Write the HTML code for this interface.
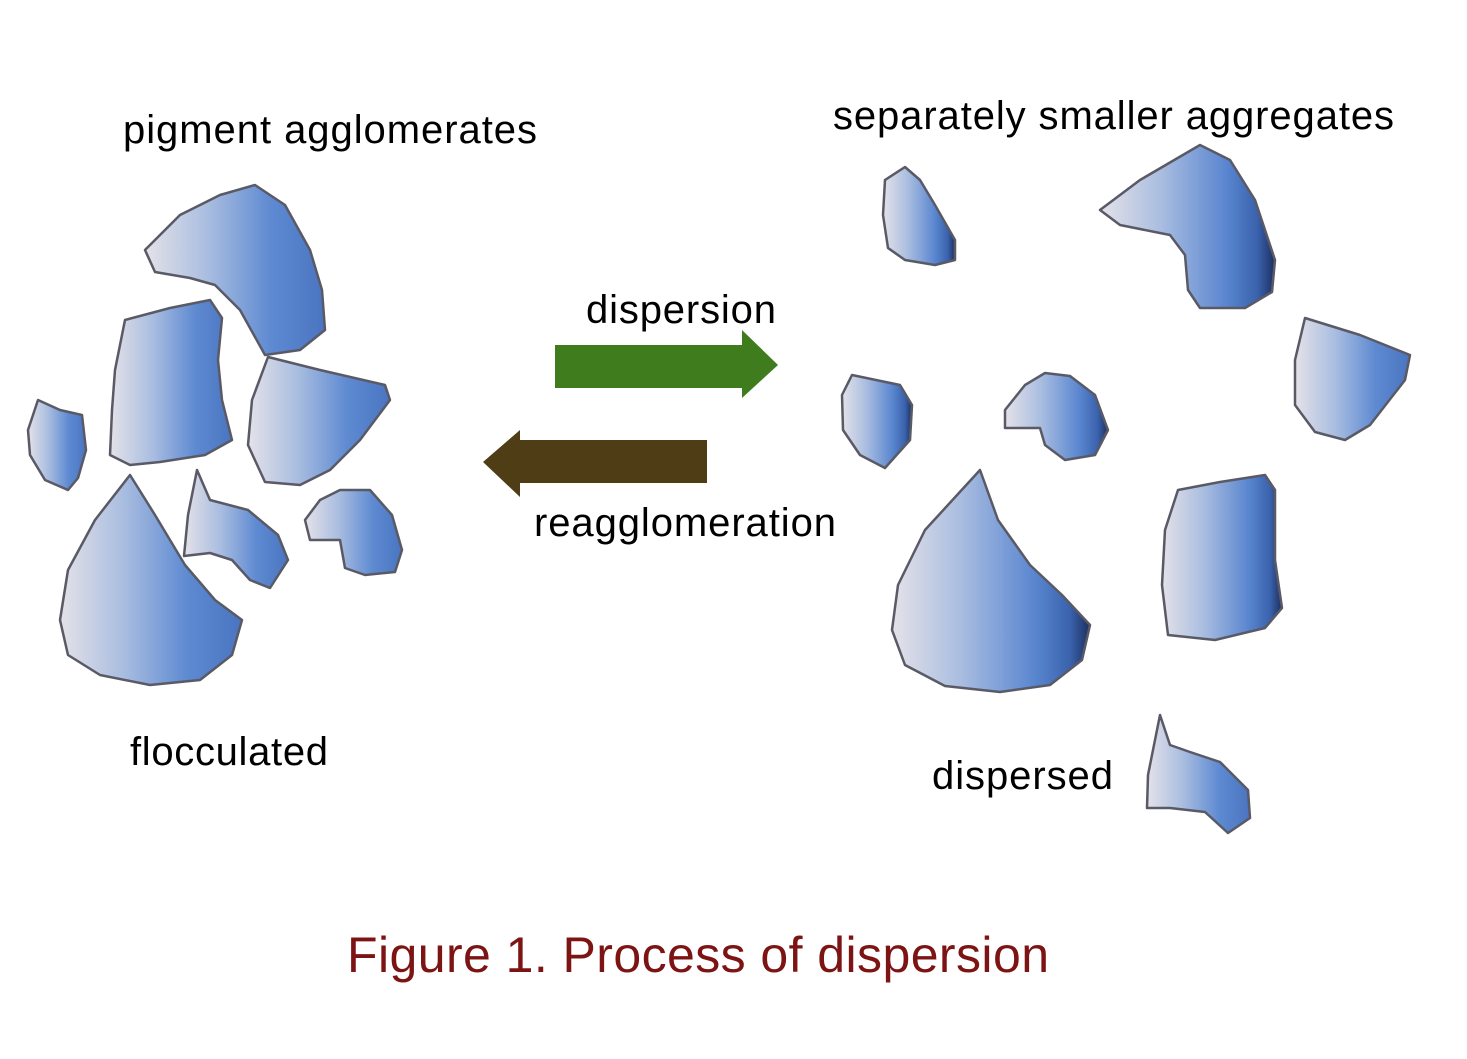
<!DOCTYPE html>
<html><head><meta charset="utf-8"><style>
html,body{margin:0;padding:0;background:#fff;}
svg{display:block;}
text{font-family:"Liberation Sans",Arial,sans-serif;}
</style></head><body>
<svg width="1467" height="1059" viewBox="0 0 1467 1059" xmlns="http://www.w3.org/2000/svg">
<defs>
<linearGradient id="g" x1="0" y1="0" x2="1" y2="0">
<stop offset="0" stop-color="#e4e2e8"/>
<stop offset="0.35" stop-color="#a9bde0"/>
<stop offset="0.7" stop-color="#5e8ad2"/>
<stop offset="1" stop-color="#4a74c0"/>
</linearGradient>
<linearGradient id="gd" x1="0" y1="0" x2="1" y2="0">
<stop offset="0" stop-color="#e4e2e8"/>
<stop offset="0.35" stop-color="#a9bde0"/>
<stop offset="0.72" stop-color="#5a86d0"/>
<stop offset="0.9" stop-color="#3a62ad"/>
<stop offset="1" stop-color="#1c2f5e"/>
</linearGradient>
</defs>
<g stroke="#5a5a66" stroke-width="2.5" stroke-linejoin="round">
<!-- left cluster -->
<polygon fill="url(#g)" points="145,250 180,215 220,195 255,185 285,205 310,250 322,290 325,330 300,350 265,355 240,310 215,285 190,278 155,272"/>
<polygon fill="url(#g)" points="125,320 170,308 210,300 222,318 218,360 222,400 232,440 205,455 160,462 130,465 110,455 112,410 115,370"/>
<polygon fill="url(#g)" points="268,357 320,370 385,385 390,400 360,440 330,470 300,485 265,482 248,445 252,400"/>
<polygon fill="url(#g)" points="38,400 60,410 82,415 86,450 78,478 68,490 45,480 30,455 28,430"/>
<polygon fill="url(#g)" points="130,475 155,515 185,565 215,600 242,620 232,655 200,680 150,685 100,675 68,655 60,620 68,570 95,520"/>
<polygon fill="url(#g)" points="197,470 210,500 248,510 278,535 288,560 270,588 250,580 232,560 210,553 184,556 188,515"/>
<polygon fill="url(#g)" points="305,520 320,500 340,490 370,490 392,515 402,550 395,572 365,575 345,568 340,540 310,540"/>
<!-- right side -->
<polygon fill="url(#gd)" points="885,180 905,167 920,180 935,205 955,240 955,260 935,265 905,260 888,248 883,215"/>
<polygon fill="url(#gd)" points="1100,210 1140,180 1200,145 1230,160 1255,200 1275,260 1272,292 1245,308 1200,308 1188,290 1185,255 1170,235 1120,225"/>
<polygon fill="url(#g)" points="1305,318 1360,335 1410,355 1405,380 1370,425 1345,440 1315,432 1295,405 1295,360"/>
<polygon fill="url(#gd)" points="852,375 900,385 912,405 910,440 885,468 860,455 843,430 842,395"/>
<polygon fill="url(#gd)" points="1005,410 1025,385 1045,373 1070,376 1095,395 1108,430 1095,455 1065,460 1045,445 1040,428 1005,428"/>
<polygon fill="url(#gd)" points="980,470 998,520 1030,565 1062,595 1090,625 1082,660 1050,685 1000,692 945,686 905,665 892,630 898,585 925,530"/>
<polygon fill="url(#gd)" points="1178,490 1220,482 1265,475 1275,490 1275,560 1282,608 1265,628 1215,640 1168,635 1162,585 1165,530"/>
<polygon fill="url(#g)" points="1160,715 1170,745 1190,752 1220,762 1248,790 1250,818 1228,833 1205,812 1170,808 1147,808 1148,775"/>
</g>
<!-- arrows -->
<path d="M555,345 L742,345 L742,330 L778,365 L742,398 L742,388 L555,388 Z" fill="#3e7c1e"/>
<path d="M707,440 L520,440 L520,430 L483,462 L520,497 L520,483 L707,483 Z" fill="#4f3d16"/>
<!-- labels -->
<g font-size="40" fill="#000">
<text x="123" y="143" textLength="414">pigment agglomerates</text>
<text x="833" y="129" textLength="561">separately smaller aggregates</text>
<text x="586" y="323" textLength="190">dispersion</text>
<text x="534" y="536" textLength="302">reagglomeration</text>
<text x="130" y="765" textLength="198">flocculated</text>
<text x="932" y="789" textLength="181">dispersed</text>
</g>
<text x="347" y="972" font-size="50" fill="#7d1414" textLength="702">Figure 1. Process of dispersion</text>
</svg>
</body></html>
